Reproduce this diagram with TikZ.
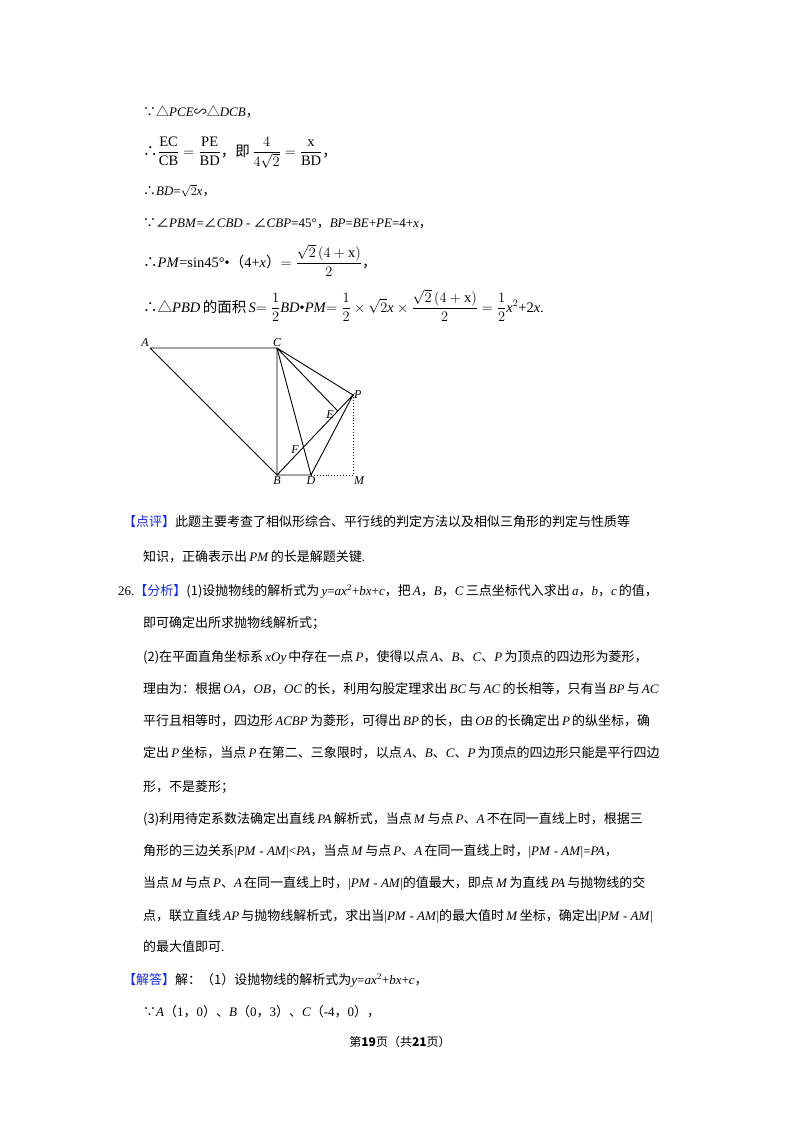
\documentclass[tikz,border=0pt]{standalone}
\usetikzlibrary{calc}
\usepackage{fontspec}
\setmainfont{Liberation Serif}
\newfontfamily\cjk{Noto Sans CJK SC}
\newcommand\zh[1]{{\cjk #1}}
\newcommand\mi[1]{\textit{#1}}
\begin{document}
\begin{tikzpicture}[x=1pt,y=-1pt,
  ln/.style={anchor=base west,inner sep=0pt,font=\fontsize{13}{15}\selectfont},
  fm/.style={anchor=base west,inner sep=0pt,font=\fontsize{14.5}{17}\selectfont},
  lb/.style={font=\fontsize{12}{14}\selectfont\itshape,inner sep=1pt},
  seg/.style={line width=0.9pt}]
\useasboundingbox (0,0) rectangle (800,1132);
\definecolor{hb}{RGB}{20,40,230}
% formulas
\node[ln] (l1) at (143,116) {\zh{∵△}\mi{PCE}\zh{∽△}\mi{DCB}\zh{，}};
\node[fm] (l2) at (143,156) {\zh{∴}$\displaystyle\frac{\mathrm{EC}}{\mathrm{CB}}=\frac{\mathrm{PE}}{\mathrm{BD}}$\zh{，即\,}$\displaystyle\frac{4}{4\sqrt{2}}=\frac{\mathrm{x}}{\mathrm{BD}}$\zh{，}};
\node[ln] (l3) at (143,195) {\zh{∴}\mi{BD}=$\sqrt{2}$\mi{x}\zh{，}};
\node[ln] (l4) at (143,227) {\zh{∵∠}\mi{PBM}=\zh{∠}\mi{CBD} - \zh{∠}\mi{CBP}=45°\zh{，}\mi{BP}=\mi{BE}+\mi{PE}=4+\mi{x}\zh{，}};
\node[fm] (l5) at (143,267) {\zh{∴}\mi{PM}=sin45°•\zh{（}4+\mi{x}\zh{）}$\displaystyle=\frac{\sqrt{2}\,(4+\mathrm{x})}{2}$\zh{，}};
\node[fm] (l6) at (143,312) {\zh{∴△}\mi{PBD}\,\zh{的面积}\,\mi{S}$\displaystyle=\frac{1}{2}$\mi{BD}•\mi{PM}$\displaystyle=\frac{1}{2}\times\sqrt{2}\mathit{x}\times\frac{\sqrt{2}\,(4+\mathrm{x})}{2}=\frac{1}{2}\mathit{x}^2$+2\mi{x}.};
% figure
\coordinate (A) at (150,348);
\coordinate (C) at (277,348);
\coordinate (B) at (277,475);
\coordinate (D) at (311,475);
\coordinate (P) at (353,395);
\coordinate (M) at (353,475);
\coordinate (E) at ($(B)!0.8!(P)$);
\coordinate (F) at (302,448);
\draw[seg] (A)--(C)--(B)--(A);
\draw[seg] (C)--(D) (C)--(P) (C)--(E) (B)--(P)--(D)--(B);
\draw[line width=0.9pt,dotted] (D)--(M)--(P);
\node[lb,anchor=south east] (nA) at (A) {A};
\node[lb,anchor=south] (nC) at (C) {C};
\node[lb,anchor=north] (nB) at (B) {B};
\node[lb,anchor=north] (nD) at (D) {D};
\node[lb,anchor=west] (nP) at (P) {P};
\node[lb,anchor=north west] (nM) at (M) {M};
\node[lb,anchor=east] (nE) at ($(E)+(-3,4)$) {E};
\node[lb,anchor=east] (nF) at ($(F)+(-2,2)$) {F};
% text
\node[ln] (t1) at (123,526) {\zh{\color{hb}【点评】}\zh{此题主要考查了相似形综合、平行线的判定方法以及相似三角形的判定与性质等}};
\node[ln] (t2) at (143,561) {\zh{知识，正确表示出}\,\mi{PM}\,\zh{的长是解题关键}.};
\node[ln] (t3) at (118,595) {26.\zh{\color{hb}【分析】}\zh{(1)设抛物线的解析式为}\,\mi{y}=\mi{ax}$^2$+\mi{bx}+\mi{c}\zh{，把}\,\mi{A}\zh{，}\mi{B}\zh{，}\mi{C}\,\zh{三点坐标代入求出}\,\mi{a}\zh{，}\mi{b}\zh{，}\mi{c}\,\zh{的值，}};
\node[ln] (t4) at (143,627) {\zh{即可确定出所求抛物线解析式；}};
\node[ln] (t5) at (143,661) {\zh{(2)在平面直角坐标系}\,\mi{xOy}\,\zh{中存在一点}\,\mi{P}\zh{，使得以点}\,\mi{A}\zh{、}\mi{B}\zh{、}\mi{C}\zh{、}\mi{P}\,\zh{为顶点的四边形为菱形，}};
\node[ln] (t6) at (143,693) {\zh{理由为：根据}\,\mi{OA}\zh{，}\mi{OB}\zh{，}\mi{OC}\,\zh{的长，利用勾股定理求出}\,\mi{BC}\,\zh{与}\,\mi{AC}\,\zh{的长相等，只有当}\,\mi{BP}\,\zh{与}\,\mi{AC}};
\node[ln] (t7) at (143,725) {\zh{平行且相等时，四边形}\,\mi{ACBP}\,\zh{为菱形，可得出}\,\mi{BP}\,\zh{的长，由}\,\mi{OB}\,\zh{的长确定出}\,\mi{P}\,\zh{的纵坐标，确}};
\node[ln] (t8) at (143,757) {\zh{定出}\,\mi{P}\,\zh{坐标，当点}\,\mi{P}\,\zh{在第二、三象限时，以点}\,\mi{A}\zh{、}\mi{B}\zh{、}\mi{C}\zh{、}\mi{P}\,\zh{为顶点的四边形只能是平行四边}};
\node[ln] (t9) at (143,791) {\zh{形，不是菱形；}};
\node[ln] (t10) at (143,823) {\zh{(3)利用待定系数法确定出直线}\,\mi{PA}\,\zh{解析式，当点}\,\mi{M}\,\zh{与点}\,\mi{P}\zh{、}\mi{A}\,\zh{不在同一直线上时，根据三}};
\node[ln] (t11) at (143,855) {\zh{角形的三边关系}|\mi{PM} - \mi{AM}|<\mi{PA}\zh{，当点}\,\mi{M}\,\zh{与点}\,\mi{P}\zh{、}\mi{A}\,\zh{在同一直线上时，}|\mi{PM} - \mi{AM}|=\mi{PA}\zh{，}};
\node[ln] (t12) at (143,887) {\zh{当点}\,\mi{M}\,\zh{与点}\,\mi{P}\zh{、}\mi{A}\,\zh{在同一直线上时，}|\mi{PM} - \mi{AM}|\zh{的值最大，即点}\,\mi{M}\,\zh{为直线}\,\mi{PA}\,\zh{与抛物线的交}};
\node[ln] (t13) at (143,920) {\zh{点，联立直线}\,\mi{AP}\,\zh{与抛物线解析式，求出当}|\mi{PM} - \mi{AM}|\zh{的最大值时}\,\mi{M}\,\zh{坐标，确定出}|\mi{PM} - \mi{AM}|};
\node[ln] (t14) at (143,951) {\zh{的最大值即可}.};
\node[ln] (t15) at (123,984) {\zh{\color{hb}【解答】}\zh{解：（1）设抛物线的解析式为}\mi{y}=\mi{ax}$^2$+\mi{bx}+\mi{c}\zh{，}};
\node[ln] (t16) at (143,1016) {\zh{∵}\mi{A}\zh{（}1\zh{，}0\zh{）、}\mi{B}\zh{（}0\zh{，}3\zh{）、}\mi{C}\zh{（}-4\zh{，}0\zh{），}};
\node[anchor=base,inner sep=0pt,font=\fontsize{12}{14}\selectfont] (ft) at (400,1046) {\zh{第\textbf{19}页（共\textbf{21}页）}};
\end{tikzpicture}
\end{document}
